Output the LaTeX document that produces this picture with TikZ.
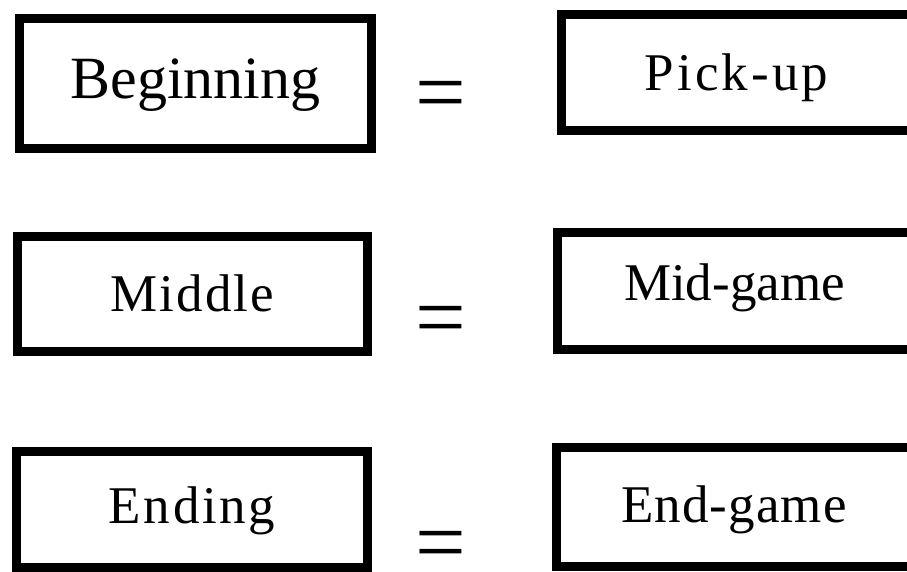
\documentclass[tikz,border=0pt]{standalone}
\usepackage{fontspec}
\setmainfont{Liberation Serif}
\begin{document}
\begin{tikzpicture}[x=1pt,y=-1pt]
\tikzset{
  stage/.style={draw, line width=9pt, inner sep=0pt, anchor=base},
  big/.style={font=\fontsize{60}{72}\selectfont},
  mid/.style={font=\fontsize{53}{64}\selectfont},
  equal/.style={inner sep=0pt, anchor=base, font=\fontsize{90}{100}\selectfont}
}
\useasboundingbox (0,0) rectangle (907,571);
\clip (0,0) rectangle (907,571);
%
% left column
\node[stage, big, minimum width=352pt, text height=79.5pt, text depth=50.5pt] (begin) at (195.5,98) {Beginning};
\node[stage, mid, minimum width=350pt, text height=74.5pt, text depth=40.5pt] (middle) at (192.5,311) {\addfontfeature{LetterSpace=4}Middle};
\node[stage, mid, minimum width=351pt, text height=71.5pt, text depth=44.5pt] (ending) at (192,523) {\addfontfeature{LetterSpace=5}Ending};
%
% equals signs
\node[equal] (eqa) at (441,122) {=};
\node[equal] (eqb) at (441,347.5) {=};
\node[equal] (eqc) at (441,572.5) {=};
%
% right column
\node[stage, mid, minimum width=350pt, text height=75.5pt, text depth=40.5pt] (pickup) at (736.5,90) {\addfontfeature{LetterSpace=6}Pick-up};
\node[stage, mid, minimum width=354pt, text height=67.5pt, text depth=49.5pt] (midgame) at (734.5,300) {Mid-game};
\node[stage, mid, minimum width=355pt, text height=74.5pt, text depth=44.5pt] (endgame) at (734,522) {\addfontfeature{LetterSpace=2}End-game};
\end{tikzpicture}
\end{document}
